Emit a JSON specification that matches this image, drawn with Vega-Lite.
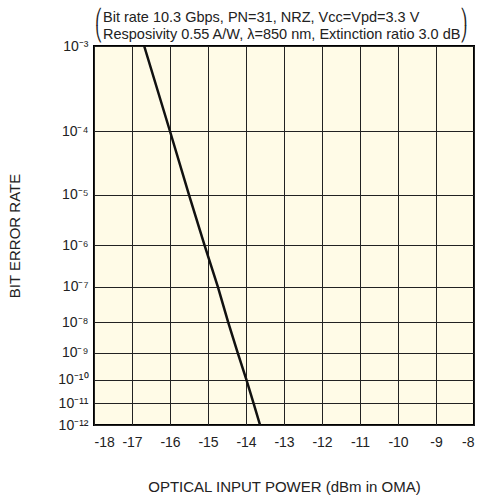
{
  "$schema": "https://vega.github.io/schema/vega-lite/v6.json",
  "width": 380,
  "height": 379,
  "autosize": {"type": "none"},
  "padding": {"left": 94, "top": 46, "right": 7, "bottom": 75},
  "background": "white",
  "title": {
    "text": ["⎛Bit rate 10.3 Gbps, PN=31, NRZ, Vcc=Vpd=3.3 V\u00a0\u00a0\u00a0\u00a0\u00a0\u00a0\u00a0\u00a0\u00a0\u00a0⎞", "⎝Resposivity 0.55 A/W, λ=850 nm, Extinction ratio 3.0 dB⎠"],
    "anchor": "start",
    "frame": "group",
    "align": "left",
    "font": "Liberation Sans",
    "fontSize": 14.5,
    "fontWeight": "normal",
    "color": "#222",
    "lineHeight": 17,
    "offset": -3,
    "dx": 1
  },
  "config": {
    "view": {"fill": "#FFFBE7", "stroke": "#000", "strokeWidth": 2},
    "axis": {
      "labelFont": "Liberation Sans",
      "titleFont": "Liberation Sans",
      "labelColor": "#222",
      "titleColor": "#222",
      "labelFontSize": 14,
      "titleFontSize": 15,
      "titleFontWeight": "normal",
      "grid": true,
      "gridColor": "#222",
      "gridOpacity": 1,
      "gridWidth": 1,
      "ticks": false,
      "domain": false
    }
  },
  "data": {
    "values": [
      {"power_dbm": -16.68, "neg_log_ber": 3},
      {"power_dbm": -16.00, "neg_log_ber": 4},
      {"power_dbm": -15.50, "neg_log_ber": 5},
      {"power_dbm": -15.09, "neg_log_ber": 6},
      {"power_dbm": -14.74, "neg_log_ber": 7},
      {"power_dbm": -14.47, "neg_log_ber": 8},
      {"power_dbm": -14.22, "neg_log_ber": 9},
      {"power_dbm": -13.99, "neg_log_ber": 10},
      {"power_dbm": -13.80, "neg_log_ber": 11},
      {"power_dbm": -13.63, "neg_log_ber": 12}
    ]
  },
  "mark": {"type": "line", "color": "#111", "strokeWidth": 2.5, "clip": true},
  "encoding": {
    "x": {
      "field": "power_dbm",
      "type": "quantitative",
      "scale": {"domain": [-18, -8], "nice": false, "zero": false},
      "axis": {
        "values": [-18, -17, -16, -15, -14, -13, -12, -11, -10, -9, -8],
        "labelExpr": "'' + datum.value",
        "labelPadding": 10,
        "title": "OPTICAL INPUT POWER (dBm in OMA)",
        "titlePadding": 30
      }
    },
    "y": {
      "field": "neg_log_ber",
      "type": "quantitative",
      "scale": {"type": "pow", "exponent": -0.15, "domain": [3, 12], "reverse": true, "nice": false, "zero": false},
      "axis": {
        "values": [3, 4, 5, 6, 7, 8, 9, 10, 11, 12],
        "labelExpr": "['','','','10⁻³','10⁻⁴','10⁻⁵','10⁻⁶','10⁻⁷','10⁻⁸','10⁻⁹','10⁻¹⁰','10⁻¹¹','10⁻¹²'][datum.value]",
        "labelPadding": 6,
        "title": "BIT ERROR RATE",
        "titlePadding": 35
      }
    }
  }
}
